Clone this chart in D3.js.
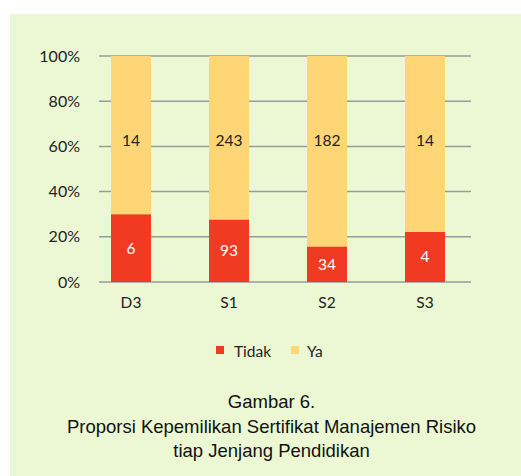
<!DOCTYPE html>
<html>
<head>
<meta charset="utf-8">
<script src="https://cdn.jsdelivr.net/npm/d3@7"></script>
<style>
  html, body { margin: 0; padding: 0; background: #ffffff; }
  svg { display: block; }
</style>
</head>
<body>
<svg id="chart" width="521" height="476"></svg>
<script>
// Jenjang pendidikan and counts per answer
const categories = ["D3", "S1", "S2", "S3"];
const tidakValues = [6, 93, 34, 4];
const yaValues = [14, 243, 182, 14];
const seriesNames = ["Tidak", "Ya"];
const yTicks = [0, 0.2, 0.4, 0.6, 0.8, 1];
const captionLines = [
  "Gambar 6.",
  "Proporsi Kepemilikan Sertifikat Manajemen Risiko",
  "tiap Jenjang Pendidikan"
];

const colors = { Tidak: "#F03B22", Ya: "#FED676" };
const bg = "#EBF8D3";
const labelFont = "Lato, 'Noto Sans', sans-serif";

const svg = d3.select("#chart");

// panel background
svg.append("rect").attr("x", 10).attr("y", 14)
  .attr("width", 511).attr("height", 462).attr("fill", bg);

// rows for the stack, normalised to proportions
const rows = categories.map((c, i) => {
  const total = tidakValues[i] + yaValues[i];
  return { cat: c, Tidak: tidakValues[i] / total, Ya: yaValues[i] / total,
           rawTidak: tidakValues[i], rawYa: yaValues[i] };
});
const stacked = d3.stack().keys(seriesNames)(rows);

const plot = { left: 99, right: 471, top: 56, bottom: 282 };

const x = d3.scaleBand().domain(categories)
  .range([82, 474]).paddingInner(0.592).paddingOuter(0.296);
const y = d3.scaleLinear().domain([0, 1]).range([plot.bottom, plot.top]);

// gridlines
svg.append("g").selectAll("line").data(yTicks).join("line")
  .attr("x1", plot.left).attr("x2", plot.right)
  .attr("y1", d => y(d)).attr("y2", d => y(d))
  .attr("stroke", "#9a9a9a").attr("stroke-width", 1.5);

// y axis labels
const yAxis = d3.axisLeft(y).tickValues(yTicks)
  .tickFormat(d3.format(".0%")).tickSize(0).tickPadding(0);
const yg = svg.append("g").attr("transform", `translate(80,0)`).call(yAxis);
yg.select(".domain").remove();
yg.selectAll("text").attr("font-family", labelFont)
  .attr("font-size", 16).attr("fill", "#222");

// bars
const layers = svg.append("g").selectAll("g").data(stacked).join("g")
  .attr("fill", d => colors[d.key]);
layers.selectAll("rect").data(d => d).join("rect")
  .attr("x", d => x(d.data.cat))
  .attr("width", x.bandwidth())
  .attr("y", d => y(d[1]))
  .attr("height", d => y(d[0]) - y(d[1]));

// value labels
const tidakLayer = stacked[0];
svg.append("g").selectAll("text").data(tidakLayer).join("text")
  .attr("x", d => x(d.data.cat) + x.bandwidth() / 2)
  .attr("y", d => (y(d[0]) + y(d[1])) / 2)
  .attr("dy", "0.36em")
  .attr("text-anchor", "middle")
  .attr("font-family", labelFont).attr("font-size", 15.5)
  .attr("fill", "#ffffff")
  .text(d => d.data.rawTidak);

svg.append("g").selectAll("text").data(rows).join("text")
  .attr("x", d => x(d.cat) + x.bandwidth() / 2)
  .attr("y", y(0.628))
  .attr("dy", "0.36em")
  .attr("text-anchor", "middle")
  .attr("font-family", labelFont).attr("font-size", 15.5)
  .attr("fill", "#222")
  .text(d => d.rawYa);

// category axis
const xAxis = d3.axisBottom(x).tickSize(0).tickPadding(0);
const xg = svg.append("g").attr("transform", `translate(0,297)`).call(xAxis);
xg.select(".domain").remove();
xg.selectAll("text").attr("font-family", labelFont)
  .attr("font-size", 15.5).attr("fill", "#222").attr("dy", "0.71em");

// legend
const legendItems = [
  { key: "Tidak", sx: 216, tx: 234 },
  { key: "Ya", sx: 291, tx: 307 }
];
const lg = svg.append("g");
lg.selectAll("rect").data(legendItems).join("rect")
  .attr("x", d => d.sx).attr("y", 346).attr("width", 8).attr("height", 8)
  .attr("fill", d => colors[d.key]);
lg.selectAll("text").data(legendItems).join("text")
  .attr("x", d => d.tx).attr("y", 351).attr("dy", "0.36em")
  .attr("font-family", labelFont).attr("font-size", 15.5).attr("fill", "#222")
  .text(d => d.key);

// caption
const captionBase = [408, 433, 457];
svg.append("g").selectAll("text").data(captionLines).join("text")
  .attr("x", 271.5)
  .attr("y", (d, i) => captionBase[i])
  .attr("text-anchor", "middle")
  .attr("font-family", "'Liberation Sans', Arial, sans-serif")
  .attr("font-size", 18.5).attr("fill", "#111")
  .text(d => d);
</script>
</body>
</html>
